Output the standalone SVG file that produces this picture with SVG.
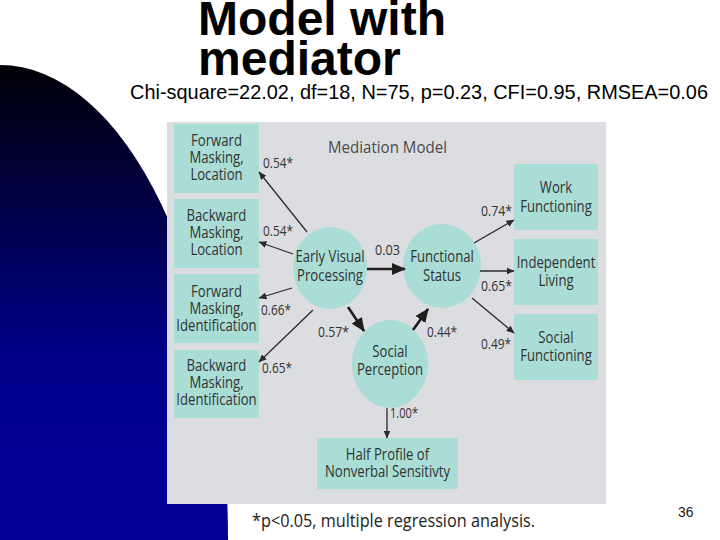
<svg xmlns="http://www.w3.org/2000/svg" width="720" height="540" viewBox="0 0 720 540">
<defs>
<linearGradient id="bg" gradientUnits="userSpaceOnUse" x1="0" y1="65" x2="0" y2="540">
<stop offset="0" stop-color="#000006"/>
<stop offset="0.62" stop-color="#00008c"/>
<stop offset="1" stop-color="#000099"/>
</linearGradient>
<marker id="ah" markerUnits="userSpaceOnUse" markerWidth="8" markerHeight="7" refX="7.5" refY="3.5" orient="auto">
<path d="M0,0 L8,3.5 L0,7 Z" fill="#2b2b2b"/>
</marker>
<marker id="ahb" markerUnits="userSpaceOnUse" markerWidth="14" markerHeight="12" refX="13" refY="6" orient="auto">
<path d="M0,0 L14,6 L0,12 Z" fill="#1e1e1e"/>
</marker>
<style>
.box{fill:#a9ddd6}
.ell{fill:#a9ddd6}
.nt{font-family:"Open Sans","Noto Sans",sans-serif;font-size:16px;fill:#333;text-anchor:middle}
.lb{font-family:"Open Sans","Noto Sans",sans-serif;font-size:14px;fill:#333}
.thin{stroke:#2b2b2b;stroke-width:1.3;fill:none;marker-end:url(#ah)}
.thick{stroke:#1e1e1e;stroke-width:2.6;fill:none;marker-end:url(#ahb)}
</style>
</defs>
<rect x="0" y="0" width="720" height="540" fill="#ffffff"/>
<path d="M0,65 A228,475 0 0 1 228,540 L0,540 Z" fill="url(#bg)"/>
<text x="198" y="35" font-family="Liberation Sans, Arial, sans-serif" font-weight="bold" font-size="48" fill="#000">Model with</text>
<text x="198" y="75" font-family="Liberation Sans, Arial, sans-serif" font-weight="bold" font-size="48" fill="#000">mediator</text>
<text x="130" y="99" font-family="Liberation Sans, Arial, sans-serif" font-size="21" fill="#000" textLength="578" lengthAdjust="spacingAndGlyphs">Chi-square=22.02, df=18, N=75, p=0.23, CFI=0.95, RMSEA=0.06</text>
<rect x="167" y="122" width="439" height="382" fill="#dcdde0"/>
<text x="328" y="153" font-family="Open Sans, Noto Sans, sans-serif" font-size="17" fill="#4a4a4a" textLength="119" lengthAdjust="spacingAndGlyphs">Mediation Model</text>

<g id="fwd-loc">
<rect class="box" x="174" y="124" width="85" height="69"/>
<g transform="translate(216.5 0) scale(0.82 1)"><text class="nt" x="0" y="146">Forward</text><text class="nt" x="0" y="163">Masking,</text><text class="nt" x="0" y="180">Location</text></g>
</g>
<g id="bwd-loc">
<rect class="box" x="174" y="199" width="85" height="69"/>
<g transform="translate(216.5 0) scale(0.82 1)"><text class="nt" x="0" y="221">Backward</text><text class="nt" x="0" y="238">Masking,</text><text class="nt" x="0" y="255">Location</text></g>
</g>
<g id="fwd-id">
<rect class="box" x="174" y="274" width="85" height="69"/>
<g transform="translate(216.5 0) scale(0.82 1)"><text class="nt" x="0" y="297">Forward</text><text class="nt" x="0" y="314">Masking,</text><text class="nt" x="0" y="331">Identification</text></g>
</g>
<g id="bwd-id">
<rect class="box" x="174" y="350" width="85" height="68"/>
<g transform="translate(216.5 0) scale(0.82 1)"><text class="nt" x="0" y="371">Backward</text><text class="nt" x="0" y="388">Masking,</text><text class="nt" x="0" y="405">Identification</text></g>
</g>
<g id="evp">
<ellipse class="ell" cx="330" cy="268" rx="37" ry="41"/>
<g transform="translate(330 0) scale(0.82 1)"><text class="nt" x="0" y="262">Early Visual</text><text class="nt" x="0" y="281">Processing</text></g>
</g>
<g id="fs">
<ellipse class="ell" cx="442" cy="266" rx="39" ry="42"/>
<g transform="translate(442 0) scale(0.82 1)"><text class="nt" x="0" y="262">Functional</text><text class="nt" x="0" y="281">Status</text></g>
</g>
<g id="sp">
<ellipse class="ell" cx="390" cy="364" rx="38" ry="44"/>
<g transform="translate(390 0) scale(0.82 1)"><text class="nt" x="0" y="357">Social</text><text class="nt" x="0" y="375">Perception</text></g>
</g>
<g id="work">
<rect class="box" x="514" y="164" width="84" height="66"/>
<g transform="translate(556 0) scale(0.82 1)"><text class="nt" x="0" y="193">Work</text><text class="nt" x="0" y="212">Functioning</text></g>
</g>
<g id="indep">
<rect class="box" x="514" y="239" width="84" height="66"/>
<g transform="translate(556 0) scale(0.82 1)"><text class="nt" x="0" y="268">Independent</text><text class="nt" x="0" y="286">Living</text></g>
</g>
<g id="social">
<rect class="box" x="514" y="314" width="84" height="66"/>
<g transform="translate(556 0) scale(0.82 1)"><text class="nt" x="0" y="343">Social</text><text class="nt" x="0" y="361">Functioning</text></g>
</g>
<g id="half">
<rect class="box" x="317" y="438" width="141" height="51"/>
<g transform="translate(387.5 0) scale(0.82 1)"><text class="nt" x="0" y="460">Half Profile of</text><text class="nt" x="0" y="477">Nonverbal Sensitivty</text></g>
</g>

<g id="connectors">
<line class="thin" x1="307" y1="232" x2="259" y2="172"/>
<line class="thin" x1="293" y1="254" x2="259" y2="242"/>
<line class="thin" x1="292" y1="288" x2="259" y2="298"/>
<line class="thin" x1="313" y1="310" x2="259" y2="362"/>
<line class="thin" x1="474" y1="243" x2="514" y2="220"/>
<line class="thin" x1="480" y1="271" x2="514" y2="271"/>
<line class="thin" x1="472" y1="298" x2="514" y2="333"/>
<line class="thin" x1="387" y1="408" x2="387" y2="438"/>
<line class="thick" x1="367" y1="269" x2="405" y2="269"/>
<line class="thick" x1="348" y1="307" x2="364" y2="331"/>
<line class="thick" x1="413" y1="330" x2="428" y2="309"/>
</g>

<g id="labels">
<text class="lb" x="263" y="168" textLength="30" lengthAdjust="spacingAndGlyphs">0.54*</text>
<text class="lb" x="263" y="236" textLength="30" lengthAdjust="spacingAndGlyphs">0.54*</text>
<text class="lb" x="261" y="315" textLength="30" lengthAdjust="spacingAndGlyphs">0.66*</text>
<text class="lb" x="262" y="373" textLength="30" lengthAdjust="spacingAndGlyphs">0.65*</text>
<text class="lb" x="375" y="255" textLength="25" lengthAdjust="spacingAndGlyphs">0.03</text>
<text class="lb" x="318" y="337" textLength="31" lengthAdjust="spacingAndGlyphs">0.57*</text>
<text class="lb" x="427" y="337" textLength="30" lengthAdjust="spacingAndGlyphs">0.44*</text>
<text class="lb" x="481" y="216" textLength="31" lengthAdjust="spacingAndGlyphs">0.74*</text>
<text class="lb" x="481" y="291" textLength="31" lengthAdjust="spacingAndGlyphs">0.65*</text>
<text class="lb" x="481" y="349" textLength="30" lengthAdjust="spacingAndGlyphs">0.49*</text>
<text class="lb" x="390" y="418" textLength="28" lengthAdjust="spacingAndGlyphs">1.00*</text>
</g>

<text x="252" y="527" font-family="Open Sans, Noto Sans, sans-serif" font-size="18" fill="#222" textLength="283" lengthAdjust="spacingAndGlyphs">*p&lt;0.05, multiple regression analysis.</text>
<text x="678" y="517" font-family="Liberation Sans, Arial, sans-serif" font-size="14" fill="#2a1515">36</text>
</svg>
